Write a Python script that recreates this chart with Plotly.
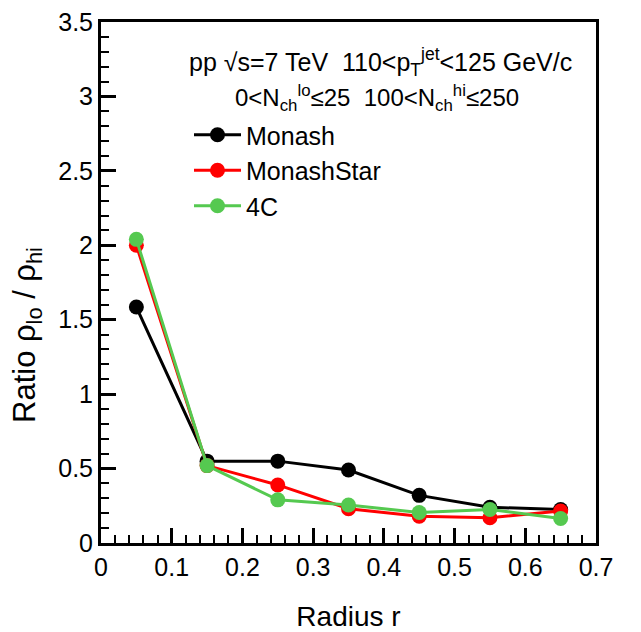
import plotly.graph_objects as go

radius = [0.05, 0.15, 0.25, 0.35, 0.45, 0.55, 0.65]
monash = [1.585, 0.55, 0.55, 0.49, 0.32, 0.24, 0.225]
monash_star = [2.00, 0.52, 0.39, 0.23, 0.18, 0.17, 0.215]
c4 = [2.04, 0.52, 0.29, 0.255, 0.205, 0.225, 0.165]

series = [("Monash", monash, "#000000"),
          ("MonashStar", monash_star, "#ff0000"),
          ("4C", c4, "#55c950")]

FONT = "Liberation Sans, Arial, Helvetica, sans-serif"

# page body has an 8px margin; compensate so the plot lands where the reference has it
OFF = 8
W, H = 641 - OFF, 632 - OFF
PL, PR, PT, PB = 101, 596, 22, 543  # plot area in screen pixels

fig = go.Figure()
for i, (name, vals, col) in enumerate(series):
    fig.add_trace(go.Scatter(
        x=radius, y=vals, name=name, mode="lines+markers",
        line=dict(color=col, width=3),
        marker=dict(color=col, size=15, symbol="circle"),
        legendgroup=f"g{i}",
    ))

axis_common = dict(
    showgrid=False, zeroline=False, showline=True, linecolor="black",
    linewidth=3, mirror=True, ticks="inside", ticklen=15, tickwidth=2.5,
    tickcolor="black", tickfont=dict(family=FONT, size=25, color="black"),
    automargin=False, ticklabeloverflow="allow",
)

fig.update_xaxes(
    range=[0, 0.7], dtick=0.1, tick0=0,
    minor=dict(ticks="inside", dtick=0.02, ticklen=8, tickwidth=2, tickcolor="black"),
    title=dict(text="Radius r", font=dict(family=FONT, size=28, color="black"), standoff=40),
    **axis_common,
)
fig.update_yaxes(
    range=[0, 3.5], dtick=0.5, tick0=0,
    minor=dict(ticks="inside", dtick=0.1, ticklen=8, tickwidth=2, tickcolor="black"),
    **axis_common,
)

pw, ph = PR - PL, PB - PT


def px(x):
    return (x - PL) / pw


def py(y):
    return 1 - (y - PT) / ph


# y-axis title (ROOT style: aligned toward the upper end of the axis)
fig.add_annotation(
    x=px(27), y=py(335), xref="paper", yref="paper",
    xanchor="center", yanchor="middle", showarrow=False, textangle=-90,
    text="Ratio ρ<sub>lo</sub> / ρ<sub>hi</sub>",
    font=dict(family=FONT, size=31, color="black"),
)

fig.add_annotation(
    x=px(380), y=py(62), xref="paper", yref="paper",
    xanchor="center", yanchor="middle", showarrow=False,
    text="pp √s=7 TeV  110&lt;p<sub>T</sub><sup>jet</sup>&lt;125 GeV/c",
    font=dict(family=FONT, size=25, color="black"),
)
fig.add_annotation(
    x=px(377), y=py(98), xref="paper", yref="paper",
    xanchor="center", yanchor="middle", showarrow=False,
    text="0&lt;N<sub>ch</sub><sup>lo</sup>≤25  100&lt;N<sub>ch</sub><sup>hi</sup>≤250",
    font=dict(family=FONT, size=24, color="black"),
)

fig.update_layout(
    width=W, height=H,
    margin=dict(l=PL - OFF, r=641 - PR, t=PT - OFF, b=632 - PB),
    paper_bgcolor="white", plot_bgcolor="white",
    font=dict(family=FONT, color="black"),
    legend=dict(
        x=px(189), y=py(112), xanchor="left", yanchor="top",
        font=dict(family=FONT, size=25, color="black"),
        bgcolor="rgba(0,0,0,0)", tracegroupgap=0, itemwidth=47,
    ),
)

fig.write_html("out.html")
